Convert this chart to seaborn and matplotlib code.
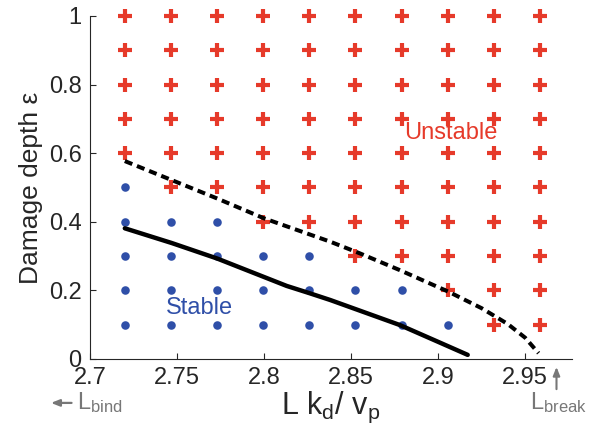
import numpy as np
import pandas as pd
import matplotlib
matplotlib.use("Agg")
import matplotlib.pyplot as plt
import seaborn as sns

# grid of simulated parameters
kd_grid = [2.72, 2.7465, 2.773, 2.7995, 2.826, 2.8525, 2.879, 2.9055, 2.932, 2.9585]
eps_grid = [0.1, 0.2, 0.3, 0.4, 0.5, 0.6, 0.7, 0.8, 0.9, 1.0]
# highest stable damage depth for each column (0 = none stable)
max_stable = [0.5, 0.4, 0.4, 0.3, 0.3, 0.2, 0.2, 0.1, 0.0, 0.0]

# solid boundary line
solid_x = [2.72, 2.747, 2.773, 2.80, 2.813, 2.826, 2.838, 2.878, 2.90, 2.917]
solid_y = [0.381, 0.338, 0.293, 0.239, 0.213, 0.192, 0.172, 0.099, 0.05, 0.012]

# dashed boundary line
dash_x = [2.72, 2.773, 2.80, 2.838, 2.855, 2.878, 2.906, 2.925, 2.94, 2.95, 2.9577]
dash_y = [0.577, 0.468, 0.410, 0.342, 0.308, 0.259, 0.196, 0.148, 0.102, 0.062, 0.017]

xticks = [2.7, 2.75, 2.8, 2.85, 2.9, 2.95]
xticklabels = ["2.7", "2.75", "2.8", "2.85", "2.9", "2.95"]
yticks = [0, 0.2, 0.4, 0.6, 0.8, 1.0]
yticklabels = ["0", "0.2", "0.4", "0.6", "0.8", "1"]

rows = []
for x, m in zip(kd_grid, max_stable):
    for e in eps_grid:
        rows.append({"kd": x, "eps": e, "stable": e <= m + 1e-9})
df = pd.DataFrame(rows)

sns.set_style("ticks")
plt.rcParams["font.family"] = ["Liberation Sans", "DejaVu Sans"]
plt.rcParams["mathtext.fontset"] = "custom"
plt.rcParams["mathtext.rm"] = "Liberation Sans"
plt.rcParams["mathtext.it"] = "Liberation Sans:italic"

red = "#e63a2a"
blue = "#2f4fa8"
gray = "#777777"

fig = plt.figure(figsize=(5.96, 4.37), dpi=100)
ax = fig.add_axes([0.151, 0.1785, 0.809, 0.785])

sns.scatterplot(data=df[~df.stable], x="kd", y="eps", marker="+", color=red,
                s=115, linewidth=3.0, ax=ax, clip_on=False, zorder=3)
sns.scatterplot(data=df[df.stable], x="kd", y="eps", marker="o", color=blue,
                s=38, linewidth=0, ax=ax, clip_on=False, zorder=3)

sns.lineplot(x=solid_x, y=solid_y, sort=False, estimator=None, color="black",
             linewidth=3.2, ax=ax, zorder=4)
sns.lineplot(x=dash_x, y=dash_y, sort=False, estimator=None, color="black",
             linewidth=2.9, linestyle=(0, (2.0, 1.25)), ax=ax, zorder=4)

ax.text(2.907, 0.66, "Unstable", color=red, fontsize=17, ha="center", va="center")
ax.text(2.763, 0.15, "Stable", color=blue, fontsize=17, ha="center", va="center")

ax.set_xlim(2.7, 2.977)
ax.set_ylim(0, 1)
ax.set_xticks(xticks)
ax.set_xticklabels(xticklabels)
ax.set_yticks(yticks)
ax.set_yticklabels(yticklabels)
ax.tick_params(direction="in", labelsize=17, length=4, width=0.8, pad=6)
for s in ["left", "bottom"]:
    ax.spines[s].set_linewidth(0.8)
sns.despine(ax=ax)

ax.set_xlabel(r"L k$_{\mathrm{d}}$/ v$_{\mathrm{p}}$", fontsize=22)
ax.set_ylabel("Damage depth ε", fontsize=19)
ax.xaxis.set_label_coords(0.5, -0.09)
ax.yaxis.set_label_coords(-0.098, 0.5)

# L_bind / L_break markers
ax.annotate("", xy=(2.676, -0.128), xytext=(2.691, -0.128),
            xycoords="data", textcoords="data", annotation_clip=False,
            arrowprops=dict(arrowstyle="-|>,head_length=0.5,head_width=0.2",
                            color=gray, lw=1.6))
ax.text(2.6925, -0.128, r"L$_{\mathrm{bind}}$", color=gray, fontsize=17,
        ha="left", va="center", clip_on=False)
ax.annotate("", xy=(2.968, -0.015), xytext=(2.968, -0.096),
            xycoords="data", textcoords="data", annotation_clip=False,
            arrowprops=dict(arrowstyle="-|>,head_length=0.5,head_width=0.2",
                            color=gray, lw=1.5))
ax.text(2.9525, -0.128, r"L$_{\mathrm{break}}$", color=gray, fontsize=17,
        ha="left", va="center", clip_on=False)

fig.savefig("out.png", dpi=100)
